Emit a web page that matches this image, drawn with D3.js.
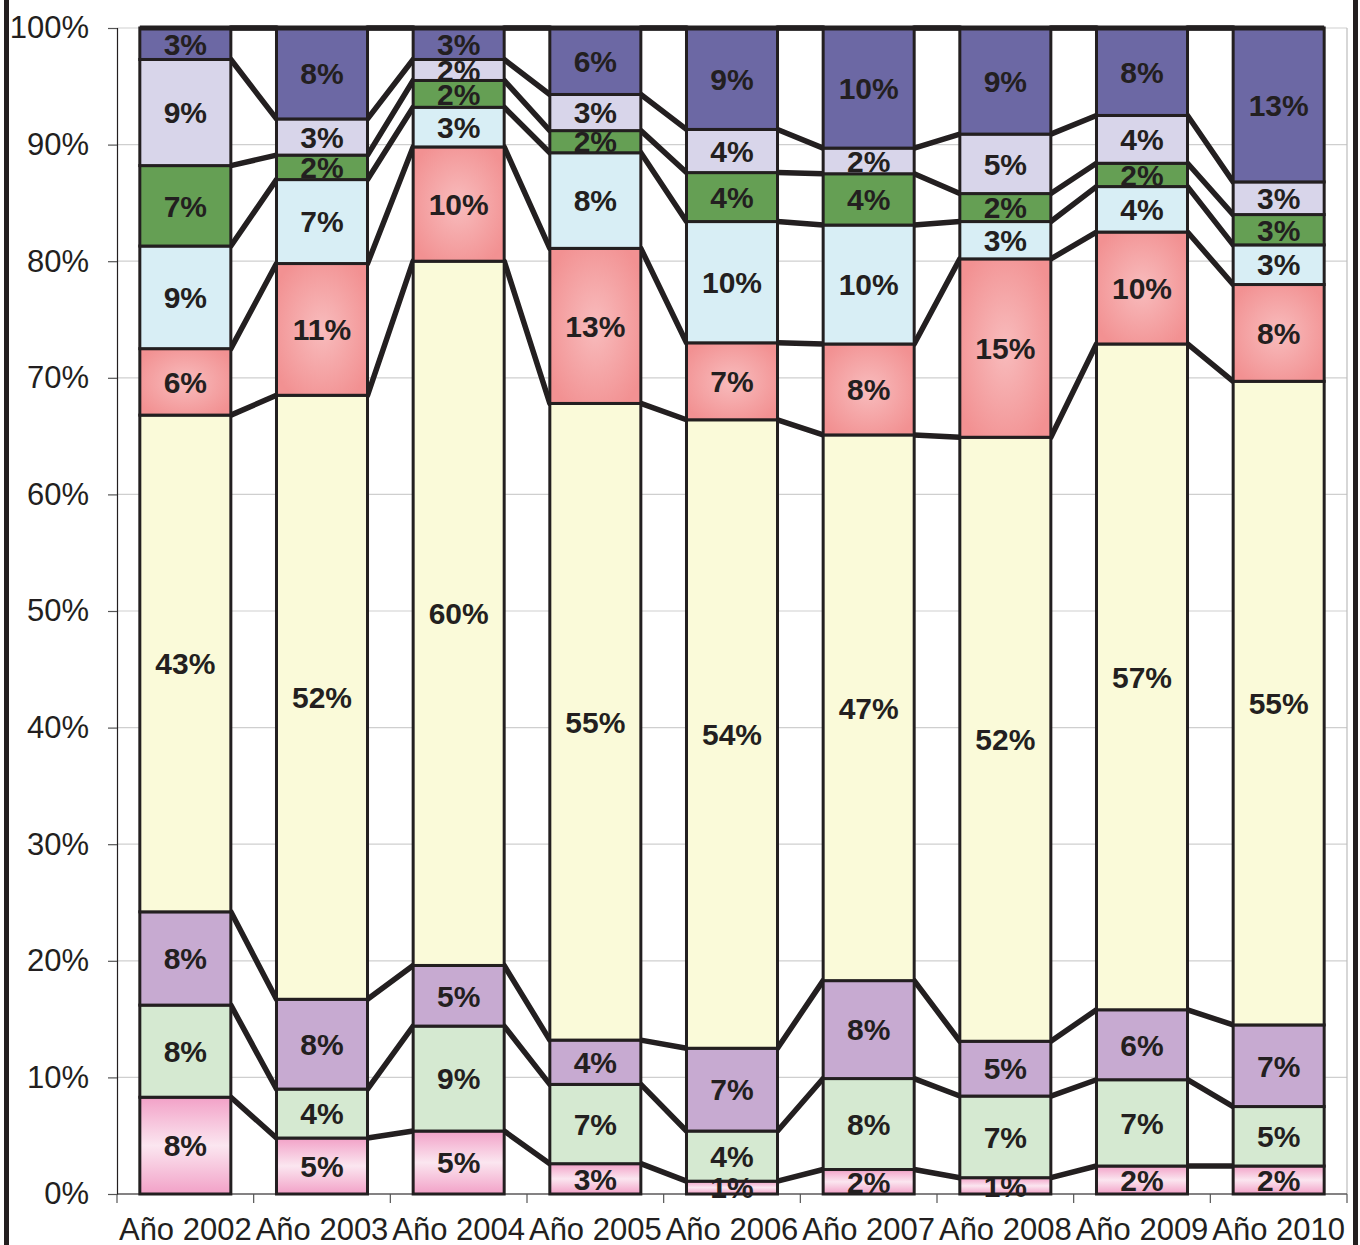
<!DOCTYPE html>
<meta charset="utf-8">
<style>
  body { margin: 0; background: #fff; }
  text { font-family: "Liberation Sans", Arial, sans-serif; fill: #231f20; }
  .seg-label { font-weight: 700; font-size: 30px; }
  .axis-label { font-size: 31px; }
  .connector { fill: none; stroke: #231f20; stroke-width: 5.5px; stroke-linecap: round; }
</style>
<body>
<div id="chart"></div>

<script src="https://d3js.org/d3.v7.min.js"></script>
<script>

  // categories
  var years = ["Año 2002", "Año 2003", "Año 2004", "Año 2005", "Año 2006",
               "Año 2007", "Año 2008", "Año 2009", "Año 2010"];

  // series values (percent), bottom to top
  var pink      = [8.3, 4.8, 5.4, 2.6, 1.1, 2.1, 1.4, 2.4, 2.4];
  var lightGreen= [7.9, 4.2, 9.0, 6.8, 4.3, 7.8, 7.0, 7.4, 5.1];
  var lilac     = [8.0, 7.7, 5.2, 3.8, 7.1, 8.4, 4.7, 6.0, 7.0];
  var cream     = [42.6, 51.8, 60.4, 54.6, 53.9, 46.8, 51.8, 57.1, 55.2];
  var salmon    = [5.7, 11.3, 9.8, 13.3, 6.6, 7.8, 15.3, 9.6, 8.3];
  var skyBlue   = [8.8, 7.2, 3.4, 8.2, 10.4, 10.2, 3.2, 3.9, 3.4];
  var green     = [6.9, 2.1, 2.3, 1.9, 4.2, 4.4, 2.4, 2.0, 2.6];
  var lavender  = [9.1, 3.1, 1.8, 3.1, 3.7, 2.2, 5.1, 4.1, 2.8];
  var indigo    = [2.7, 7.8, 2.7, 5.7, 8.7, 10.3, 9.1, 7.5, 13.2];

  // y axis tick labels
  var yTicks = [0, 0.1, 0.2, 0.3, 0.4, 0.5, 0.6, 0.7, 0.8, 0.9, 1];

  var seriesKeys = ["pink", "lightGreen", "lilac", "cream", "salmon",
                    "skyBlue", "green", "lavender", "indigo"];
  var seriesVals = [pink, lightGreen, lilac, cream, salmon, skyBlue, green, lavender, indigo];

  var fills = {
    pink: "url(#gradPink)",
    lightGreen: "#d5e9d1",
    lilac: "#c7aad1",
    cream: "#fafad9",
    salmon: "url(#gradSalmon)",
    skyBlue: "#d8eef5",
    green: "#659f54",
    lavender: "#d8d5ea",
    indigo: "#6c68a4"
  };

  // build rows for d3.stack
  var rows = years.map(function (y, i) {
    var r = { year: y };
    seriesKeys.forEach(function (k, j) { r[k] = seriesVals[j][i]; });
    return r;
  });

  var W = 1360, H = 1245;
  var margin = { top: 28, right: 13, bottom: 51, left: 117 };
  var width = W - margin.left - margin.right,
      height = H - margin.top - margin.bottom;

  var x = d3.scaleBand().domain(years).range([0, width])
    .paddingInner(0.334).paddingOuter(0.167);
  var y = d3.scaleLinear().domain([0, 1]).range([height, 0]);

  var stack = d3.stack().keys(seriesKeys).offset(d3.stackOffsetExpand);
  var layers = stack(rows);

  var svg = d3.select("#chart").append("svg")
    .attr("width", W).attr("height", H);

  // gradients
  var defs = svg.append("defs");
  var gp = defs.append("linearGradient").attr("id", "gradPink")
    .attr("x1", 0).attr("y1", 0).attr("x2", 0).attr("y2", 1);
  gp.append("stop").attr("offset", "0%").attr("stop-color", "#f2a1c7");
  gp.append("stop").attr("offset", "50%").attr("stop-color", "#fbe6f0");
  gp.append("stop").attr("offset", "100%").attr("stop-color", "#f2a1c7");

  var gs = defs.append("radialGradient").attr("id", "gradSalmon")
    .attr("cx", "50%").attr("cy", "50%").attr("r", "60%");
  gs.append("stop").attr("offset", "0%").attr("stop-color", "#f8bcbd");
  gs.append("stop").attr("offset", "100%").attr("stop-color", "#f29192");

  // outer frame lines
  svg.append("rect").attr("x", 4).attr("y", 0).attr("width", 5).attr("height", H).attr("fill", "#231f20");
  svg.append("rect").attr("x", 1353).attr("y", 0).attr("width", 5).attr("height", H).attr("fill", "#231f20");

  var g = svg.append("g").attr("transform", "translate(" + margin.left + "," + margin.top + ")");

  // gridlines
  g.selectAll(".grid").data(yTicks).enter().append("line")
    .attr("x1", 0).attr("x2", width)
    .attr("y1", function (d) { return y(d); }).attr("y2", function (d) { return y(d); })
    .attr("stroke", "#cfcfcf").attr("stroke-width", 1.2);

  // plot border (right)
  g.append("line").attr("x1", width).attr("x2", width).attr("y1", 0).attr("y2", height)
    .attr("stroke", "#bdbdbd").attr("stroke-width", 1.2);

  // y axis
  var yAxis = g.append("g")
    .call(d3.axisLeft(y).tickValues(yTicks).tickFormat(d3.format(".0%")).tickSize(9).tickPadding(19));
  yAxis.select(".domain").attr("stroke", "#231f20").attr("stroke-width", 1.2);
  yAxis.selectAll(".tick line").attr("stroke", "#555").attr("stroke-width", 1.2);
  yAxis.selectAll("text").attr("class", "axis-label").attr("fill", "#231f20")
    .style("font-family", "'Liberation Sans', Arial, sans-serif");

  // x axis line + boundary ticks
  g.append("line").attr("x1", 0).attr("x2", width).attr("y1", height).attr("y2", height)
    .attr("stroke", "#231f20").attr("stroke-width", 1.2);
  g.selectAll(".xtick").data(d3.range(years.length + 1)).enter().append("line")
    .attr("x1", function (k) { return k * x.step(); })
    .attr("x2", function (k) { return k * x.step(); })
    .attr("y1", height).attr("y2", height + 9)
    .attr("stroke", "#555").attr("stroke-width", 1.2);
  g.selectAll(".xlab").data(years).enter().append("text")
    .attr("class", "axis-label")
    .attr("x", function (d) { return x(d) + x.bandwidth() / 2; })
    .attr("y", height + 46)
    .attr("text-anchor", "middle")
    .text(function (d) { return d; });

  // connector lines between bars (top of each layer)
  layers.forEach(function (layer) {
    for (var i = 0; i < layer.length - 1; i++) {
      g.append("line").attr("class", "connector")
        .attr("x1", x(years[i]) + x.bandwidth()).attr("y1", y(layer[i][1]))
        .attr("x2", x(years[i + 1])).attr("y2", y(layer[i + 1][1]));
    }
  });

  // bars
  var layerG = g.selectAll(".layer").data(layers).enter().append("g")
    .attr("fill", function (d) { return fills[d.key]; });

  layerG.selectAll("rect").data(function (d) { return d; }).enter().append("rect")
    .attr("x", function (d) { return x(d.data.year); })
    .attr("y", function (d) { return y(d[1]); })
    .attr("width", x.bandwidth())
    .attr("height", function (d) { return y(d[0]) - y(d[1]); })
    .attr("stroke", "#231f20").attr("stroke-width", 3);

  // top 100% line across bars
  g.append("line").attr("x1", x(years[0])).attr("x2", x(years[years.length - 1]) + x.bandwidth())
    .attr("y1", 0).attr("y2", 0).attr("stroke", "#231f20").attr("stroke-width", 5);

  // labels
  layers.forEach(function (layer, j) {
    g.selectAll(".lab" + j).data(layer).enter().append("text")
      .attr("class", "seg-label")
      .attr("x", function (d) { return x(d.data.year) + x.bandwidth() / 2; })
      .attr("y", function (d) { return (y(d[0]) + y(d[1])) / 2; })
      .attr("dy", "0.36em")
      .attr("text-anchor", "middle")
      .text(function (d, i) { return Math.round(seriesVals[j][i]) + "%"; });
  });

</script>
</body>
